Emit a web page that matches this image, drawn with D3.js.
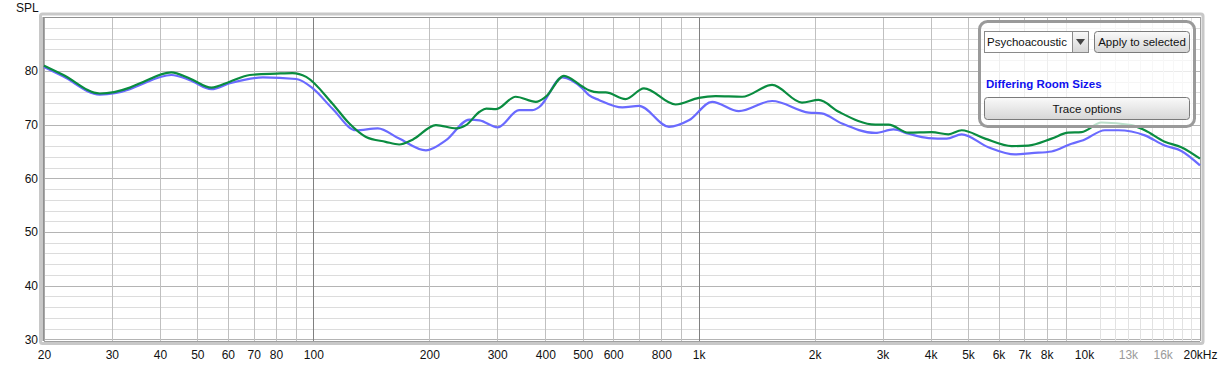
<!DOCTYPE html>
<html><head><meta charset="utf-8">
<script src="https://cdn.jsdelivr.net/npm/d3@7"></script>
<style>
html,body{margin:0;padding:0;background:#fff;}
svg{display:block;font-family:"Liberation Sans",Arial,sans-serif;}
</style></head>
<body>
<svg id="chart" width="1222" height="369"></svg>
<script>
// ---- data ----
const greenFreq = [20,22.4,27.9,33.4,35.5,42.8,47.8,54.4,60.7,68.4,80.2,88.3,95.8,112,124,137,154,167,181,208,235,249,270,281,298,335,378,401,447,499,519,551,574,646,721,871,1001,1106,1297,1551,1854,2048,2308,2872,3110,3504,4026,4448,4814,5536,6490,7169,8238,9099,9853,11102,13274,14382,16200,17888,20000];
const greenSPL  = [81.0,79.3,75.8,76.9,77.7,79.75,78.6,76.9,78.0,79.25,79.5,79.6,78.9,73.95,70.2,67.7,66.8,66.3,67.2,69.9,69.3,69.9,72.4,73.0,72.9,75.2,74.25,75.2,79.1,77.1,76.4,76.0,76.0,74.75,76.75,73.75,75.0,75.3,75.2,77.4,74.1,74.6,72.4,70.0,70.0,68.5,68.6,68.2,68.95,67.4,66.0,66.1,67.4,68.5,68.6,70.4,69.9,68.95,66.8,65.8,63.65];
const blueFreq  = [20,22.4,27.9,33.4,35.5,42.8,47.8,54.4,60.7,74,90.3,99.7,112,129,147,167,196,221,254,270,301,342,370,386,443,499,519,551,634,700,837,943,1084,1271,1551,1930,2085,2354,2872,3204,3504,3948,4403,4814,5646,6622,7312,8238,9282,9952,11330,12262,14382,16200,17888,20000];
const blueSPL   = [80.75,79.0,75.6,76.6,77.4,79.25,78.3,76.6,77.7,78.8,78.5,76.75,73.0,68.95,69.3,67.4,65.2,67.1,70.95,70.8,69.5,72.7,72.7,73.3,78.8,76.75,75.5,74.6,73.2,73.5,69.6,70.8,74.25,72.5,74.4,72.25,72.1,70.2,68.45,69.1,68.3,67.5,67.4,68.2,65.8,64.45,64.7,65.0,66.45,67.1,68.95,68.95,68.0,66.1,65.1,62.4];
const xTickValues = [20,30,40,50,60,70,80,100,200,300,400,500,600,800,1000,2000,3000,4000,5000,6000,7000,8000,10000,13000,16000,20000];
const xTickLabels = ["20","30","40","50","60","70","80","100","200","300","400","500","600","800","1k","2k","3k","4k","5k","6k","7k","8k","10k","13k","16k","20kHz"];
const yTickValues = [30,40,50,60,70,80];
const legendTitle = "Differing Room Sizes";

// ---- layout ----
const svg = d3.select("#chart");
const L = 44, R = 1200, T = 17.3, B = 339.3;
const x = d3.scaleLog().domain([20,20000]).range([L,R]);
const y = d3.scaleLinear().domain([30,90]).range([B,T]);
const plotTop = 17, plotBottom = 341;

// frame / shadow
svg.append("rect").attr("x",L-3.5).attr("y",plotTop-3).attr("width",R-L+6.5).attr("height",plotBottom-plotTop+5.5)
  .attr("fill","none").attr("stroke","#c8c8c8").attr("stroke-width",3).attr("rx",2);
svg.append("rect").attr("x",L).attr("y",plotTop).attr("width",R-L).attr("height",plotBottom-plotTop).attr("fill","#fff");

const grid = svg.append("g");
// horizontal minor every 2 dB
for (let v = 30; v <= 90; v += 2) {
  const major = v % 10 === 0;
  grid.append("line").attr("x1",L).attr("x2",R).attr("y1",Math.round(y(v))+0.5).attr("y2",Math.round(y(v))+0.5)
    .attr("stroke", major ? "#b4b4b4" : "#dcdcdc").attr("stroke-width",1);
}
// vertical grid
const vlines = [];
[10,100,1000].forEach(d => { for (let k=1;k<=9;k++) { const f=d*k; if (f>=20 && f<=10000) vlines.push(f);} });
for (let k=11;k<=19;k++) vlines.push(k*1000);
vlines.forEach(f => {
  const dec = (f===100||f===1000||f===10000);
  const light = f>10000;
  grid.append("line").attr("x1",Math.round(x(f))+0.5).attr("x2",Math.round(x(f))+0.5).attr("y1",plotTop).attr("y2",plotBottom)
    .attr("stroke", dec ? "#808080" : (light ? "#e2e2e2" : "#c0c0c0")).attr("stroke-width",1);
});
// plot border
svg.append("line").attr("x1",L).attr("x2",R).attr("y1",plotTop+0.5).attr("y2",plotTop+0.5).attr("stroke","#909090");
svg.append("line").attr("x1",L-0.5).attr("x2",L-0.5).attr("y1",plotTop).attr("y2",plotBottom).attr("stroke","#909090").attr("stroke-width",2);
svg.append("line").attr("x1",L).attr("x2",R).attr("y1",plotBottom+0.5).attr("y2",plotBottom+0.5).attr("stroke","#a0a0a0");
svg.append("line").attr("x1",R+0.5).attr("x2",R+0.5).attr("y1",plotTop).attr("y2",plotBottom).attr("stroke","#a0a0a0");

// axes labels
const xAxis = d3.axisBottom(x).tickValues(xTickValues).tickSize(0).tickPadding(0)
  .tickFormat((d,i)=>xTickLabels[i]);
const gx = svg.append("g").attr("transform",`translate(0,${plotBottom+9})`).call(xAxis);
gx.select(".domain").remove();
gx.selectAll("text").attr("font-size","12px").attr("fill",(d)=> (d===13000||d===16000) ? "#9a9a9a" : "#111")
  .attr("font-family","Liberation Sans, Arial, sans-serif").attr("dy","0.71em");

const yAxis = d3.axisLeft(y).tickValues(yTickValues).tickSize(0).tickPadding(0).tickFormat(d3.format("d"));
const gy = svg.append("g").attr("transform",`translate(${L-6},0)`).call(yAxis);
gy.select(".domain").remove();
gy.selectAll("text").attr("font-size","12px").attr("fill","#111").attr("font-family","Liberation Sans, Arial, sans-serif");

svg.append("text").attr("x",16).attr("y",12).attr("font-size","12px").attr("fill","#111").text("SPL");

// curves
const line = d3.line().x(d=>x(d[0])).y(d=>y(d[1])).curve(d3.curveMonotoneX);
const blueData = blueFreq.map((f,i)=>[f,blueSPL[i]]);
const greenData = greenFreq.map((f,i)=>[f,greenSPL[i]]);
svg.append("path").datum(blueData).attr("d",line).attr("fill","none").attr("stroke","#6a6aff").attr("stroke-width",2.2);
svg.append("path").datum(greenData).attr("d",line).attr("fill","none").attr("stroke","#0a8c40").attr("stroke-width",2.2);

// legend panel
const lg = svg.append("g");
lg.append("rect").attr("x",979.5).attr("y",21.5).attr("width",215).attr("height",105).attr("rx",8)
  .attr("fill","rgba(255,255,255,0.72)").attr("stroke","#9a9a9a").attr("stroke-width",3);
const defs = svg.append("defs");
const gr = defs.append("linearGradient").attr("id","btn").attr("x1",0).attr("y1",0).attr("x2",0).attr("y2",1);
gr.append("stop").attr("offset","0%").attr("stop-color","#fafafa");
gr.append("stop").attr("offset","100%").attr("stop-color","#d6d6d6");
// dropdown
lg.append("rect").attr("x",984.5).attr("y",31.5).attr("width",104).attr("height",21).attr("fill","#fff").attr("stroke","#8a8a8a");
lg.append("rect").attr("x",1072.5).attr("y",31.5).attr("width",16).attr("height",21).attr("fill","url(#btn)").attr("stroke","#8a8a8a");
lg.append("path").attr("d","M1076,39 L1085,39 L1080.5,45 Z").attr("fill","#444");
lg.append("text").attr("x",987).attr("y",46).attr("font-size","11.5px").attr("fill","#111").text("Psychoacoustic");
// apply button
lg.append("rect").attr("x",1094.5).attr("y",31.5).attr("width",95).attr("height",21).attr("rx",3).attr("fill","url(#btn)").attr("stroke","#7a7a7a");
lg.append("text").attr("x",1142).attr("y",46).attr("text-anchor","middle").attr("font-size","11.5px").attr("fill","#111").text("Apply to selected");
// title
lg.append("text").attr("x",986).attr("y",88).attr("font-size","11.5px").attr("font-weight","bold").attr("fill","#1010ee").text(legendTitle);
// trace options
lg.append("rect").attr("x",984.5).attr("y",97.5).attr("width",205).attr("height",22).attr("rx",3).attr("fill","url(#btn)").attr("stroke","#7a7a7a");
lg.append("text").attr("x",1087).attr("y",113).attr("text-anchor","middle").attr("font-size","11.5px").attr("fill","#111").text("Trace options");
</script>
</body></html>
